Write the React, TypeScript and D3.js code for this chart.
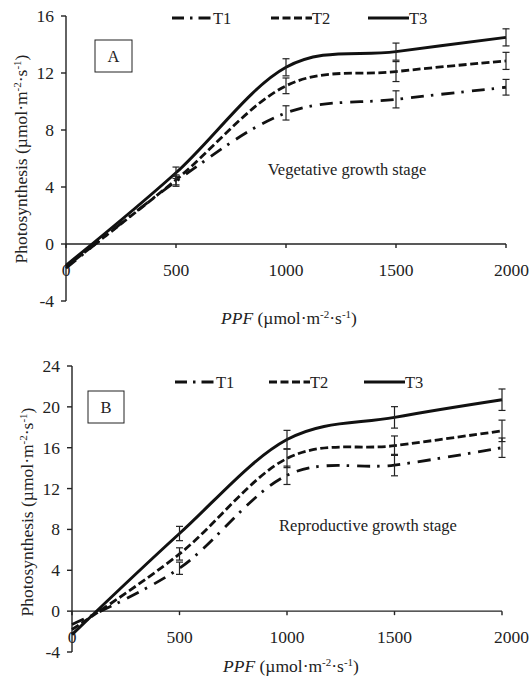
import React from "react";
import * as d3 from "d3";

const ppf = [0, 500, 1000, 1500, 2000];
const xTicks = [0, 500, 1000, 1500, 2000];
const seriesNames = ["T1", "T2", "T3"];

const vegT1 = [-1.7, 4.4, 9.2, 10.15, 11.0];
const vegT2 = [-1.6, 4.5, 11.1, 12.1, 12.85];
const vegT3 = [-1.5, 5.0, 12.4, 13.5, 14.5];
const vegErrT1 = [0, 0.35, 0.5, 0.6, 0.55];
const vegErrT2 = [0, 0.35, 0.55, 0.7, 0.6];
const vegErrT3 = [0, 0.4, 0.6, 0.6, 0.6];
const vegYTicks = [-4, 0, 4, 8, 12, 16];

const repT1 = [-1.3, 4.2, 13.3, 14.3, 16.0];
const repT2 = [-1.8, 5.6, 14.95, 16.2, 17.65];
const repT3 = [-2.3, 7.6, 16.8, 18.97, 20.7];
const repErrT1 = [0, 0.6, 0.9, 1.05, 0.95];
const repErrT2 = [0, 0.6, 0.9, 0.95, 1.05];
const repErrT3 = [0, 0.7, 0.9, 1.05, 1.05];
const repYTicks = [-4, 0, 4, 8, 12, 16, 20, 24];

const FONT = "'Liberation Serif', 'Times New Roman', serif";
const dashes = ["13,7,2.5,8", "8,3.5", ""];
const widths = [2.8, 2.8, 3];

interface PanelProps {
  x0: number; x1: number; yTopPx: number; yBotPx: number;
  yDomain: [number, number]; yTicks: number[];
  series: number[][]; errs: number[][];
  letter: string; box: [number, number, number, number];
  stage: string; stageXY: [number, number];
  legendY: number; legendX: number[];
  yTitleX: number; yTitleY: number;
  xLabelY: number; xTitleY: number; xTitleX: number;
  yLabelRight: number; lastLabelRight: number;
}

function Sup({ children }: { children: React.ReactNode }) {
  return <tspan fontSize="11" dy="-6">{children}</tspan>;
}

function Units() {
  return (
    <>
      (µmol·m<Sup>-2</Sup>
      <tspan dy="6">·s</tspan>
      <Sup>-1</Sup>
      <tspan dy="6">)</tspan>
    </>
  );
}

function Panel(p: PanelProps) {
  const x = d3.scaleLinear().domain([0, 2000]).range([p.x0, p.x1]);
  const y = d3.scaleLinear().domain(p.yDomain).range([p.yBotPx, p.yTopPx]);
  const line = d3
    .line<number>()
    .x((_, i) => x(ppf[i]))
    .y((d) => y(d))
    .curve(d3.curveCardinal.tension(0));
  const y0 = y(0);
  const lastTick = xTicks[xTicks.length - 1];
  return (
    <g fontFamily={FONT} fill="#222">
      <line x1={p.x0} x2={p.x0} y1={y(p.yDomain[0])} y2={y(p.yDomain[1])} stroke="#222" strokeWidth={1.4} />
      {p.yTicks.map((t) => (
        <g key={t}>
          <line x1={p.x0 - 5} x2={p.x0} y1={y(t)} y2={y(t)} stroke="#222" strokeWidth={1.4} />
          <text x={p.yLabelRight} y={y(t)} textAnchor="end" dominantBaseline="central" fontSize={17.5}>
            {t}
          </text>
        </g>
      ))}
      <line x1={p.x0} x2={p.x1} y1={y0} y2={y0} stroke="#222" strokeWidth={1.4} />
      {xTicks.map((t) => (
        <g key={t}>
          <line x1={x(t)} x2={x(t)} y1={y0} y2={y0 + 4} stroke="#222" strokeWidth={1.4} />
          <text
            x={t === lastTick ? p.lastLabelRight : x(t)}
            y={p.xLabelY}
            textAnchor={t === lastTick ? "end" : "middle"}
            fontSize={17.5}
          >
            {t}
          </text>
        </g>
      ))}
      {p.series.map((s, si) => (
        <path
          key={si}
          d={line(s) || ""}
          fill="none"
          stroke="#111"
          strokeWidth={widths[si]}
          strokeDasharray={dashes[si]}
        />
      ))}
      {p.series.map((s, si) =>
        s.map((v, i) => {
          const e = p.errs[si][i];
          if (!e) return null;
          const cx = x(ppf[i]);
          return (
            <g key={`${si}-${i}`} stroke="#222" strokeWidth={1.2}>
              <line x1={cx} x2={cx} y1={y(v - e)} y2={y(v + e)} />
              <line x1={cx - 3.5} x2={cx + 3.5} y1={y(v - e)} y2={y(v - e)} />
              <line x1={cx - 3.5} x2={cx + 3.5} y1={y(v + e)} y2={y(v + e)} />
            </g>
          );
        })
      )}
      {seriesNames.map((n, i) => (
        <g key={n}>
          <line
            x1={p.legendX[i]}
            x2={p.legendX[i] + 41}
            y1={p.legendY}
            y2={p.legendY}
            stroke="#111"
            strokeWidth={widths[i]}
            strokeDasharray={i === 0 ? "12,6,2.5,6" : dashes[i]}
          />
          <text x={p.legendX[i] + 41} y={p.legendY} dominantBaseline="central" fontSize={16.5}>
            {n}
          </text>
        </g>
      ))}
      <rect x={p.box[0]} y={p.box[1]} width={p.box[2]} height={p.box[3]} fill="white" stroke="#222" strokeWidth={1} />
      <text x={p.box[0] + p.box[2] / 2} y={p.box[1] + p.box[3] / 2} textAnchor="middle" dominantBaseline="central" fontSize={16.5}>
        {p.letter}
      </text>
      <text x={p.stageXY[0]} y={p.stageXY[1]} textAnchor="middle" fontSize={16.5}>
        {p.stage}
      </text>
      <text transform={`translate(${p.yTitleX},${p.yTitleY}) rotate(-90)`} textAnchor="middle" fontSize={17.5}>
        Photosynthesis <Units />
      </text>
      <text x={p.xTitleX} y={p.xTitleY} textAnchor="middle" fontSize={17.5}>
        <tspan fontStyle="italic">PPF</tspan> <Units />
      </text>
    </g>
  );
}

export default function App() {
  return (
    <svg width={530} height={676} style={{ position: "absolute", left: 0, top: 0, background: "white" }}>
      <rect width={530} height={676} fill="white" />
      <Panel
        x0={66}
        x1={506}
        yTopPx={16}
        yBotPx={301}
        yDomain={[-4, 16]}
        yTicks={vegYTicks}
        series={[vegT1, vegT2, vegT3]}
        errs={[vegErrT1, vegErrT2, vegErrT3]}
        letter="A"
        box={[95, 40, 37, 32]}
        stage="Vegetative growth stage"
        stageXY={[347, 175]}
        legendY={18}
        legendX={[172, 271, 368]}
        yTitleX={27}
        yTitleY={159}
        xLabelY={276}
        xTitleY={324}
        xTitleX={289}
        yLabelRight={54}
        lastLabelRight={529}
      />
      <Panel
        x0={72}
        x1={502}
        yTopPx={366}
        yBotPx={652}
        yDomain={[-4, 24]}
        yTicks={repYTicks}
        series={[repT1, repT2, repT3]}
        errs={[repErrT1, repErrT2, repErrT3]}
        letter="B"
        box={[88, 391, 36, 32]}
        stage="Reproductive growth stage"
        stageXY={[368, 531]}
        legendY={382}
        legendX={[175, 269, 364]}
        yTitleX={33}
        yTitleY={512}
        xLabelY={643}
        xTitleY={672}
        xTitleX={291}
        yLabelRight={60}
        lastLabelRight={529}
      />
    </svg>
  );
}
